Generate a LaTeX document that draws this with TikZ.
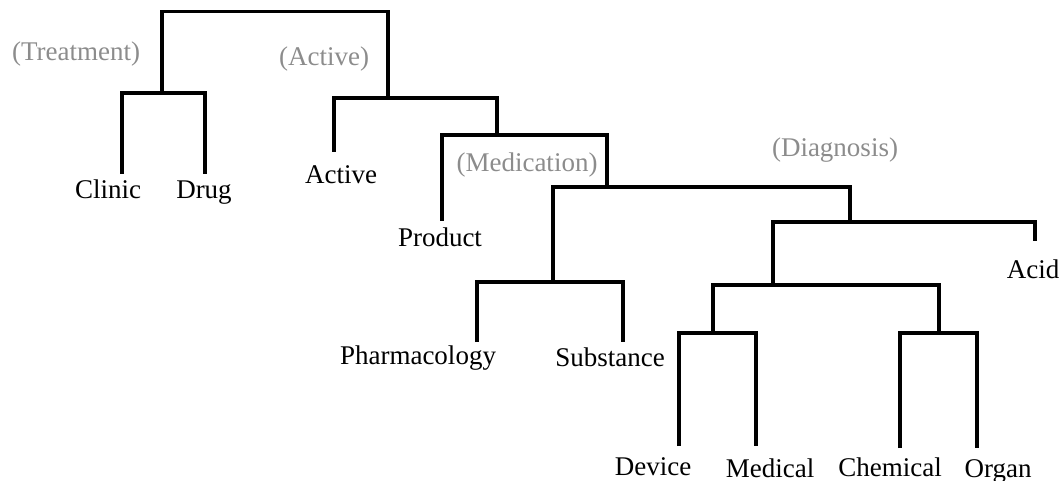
\documentclass[tikz,border=0pt]{standalone}
\usepackage{fontspec}
\setmainfont{Liberation Serif}

\definecolor{clustergray}{RGB}{140,140,140}

\tikzset{
  leaf/.style={anchor=base, inner sep=0pt, font=\fontsize{27}{32}\selectfont},
  cluster/.style={leaf, text=clustergray},
  branch/.style={draw, line width=3.6pt},
}

\begin{document}
\begin{tikzpicture}[x=1pt, y=-1pt]
        \useasboundingbox (0,0) rectangle (1060,481);

        % Define the leaf labels
        \node[leaf] (clinic) at (108,199) {Clinic};
        \node[leaf] (drug) at (204,199) {Drug};
        \node[leaf] (active) at (341,184) {Active};
        \node[leaf] (product) at (440,247) {Product};
        \node[leaf] (pharma) at (418,364) {Pharmacology};
        \node[leaf] (subst) at (610,366) {Substance};
        \node[leaf] (acid) at (1033,278) {Acid};
        \node[leaf] (device) at (653,475) {Device};
        \node[leaf] (medical) at (770,477) {Medical};
        \node[leaf] (chem) at (890,476) {Chemical};
        \node[leaf] (organ) at (998,477) {Organ};

        % Define the cluster names
        \node[cluster] (c_treat) at (76,61) {(Treatment)};
        \node[cluster] (c_active) at (324,66) {(Active)};
        \node[cluster] (c_med) at (527,172) {(Medication)};
        \node[cluster] (c_diag) at (835,157) {(Diagnosis)};

        % Define the leaf ends
        \coordinate (clinic_end) at (122,174);
        \coordinate (drug_end) at (205,174);
        \coordinate (active_end) at (334,152);
        \coordinate (product_end) at (442,221);
        \coordinate (pharma_end) at (477,342);
        \coordinate (subst_end) at (623,342);
        \coordinate (acid_end) at (1035,241);
        \coordinate (device_end) at (679,446);
        \coordinate (medical_end) at (756,446);
        \coordinate (chem_end) at (900,448);
        \coordinate (organ_end) at (977,448);

        % Define the joins
        \coordinate (j_root) at (275,11.5);
        \coordinate (j_treat) at (162,93);
        \coordinate (j_active) at (388,98);
        \coordinate (j_med) at (497,135);
        \coordinate (j_mid) at (607,187);
        \coordinate (j_ps) at (553,282);
        \coordinate (j_diag) at (850,222);
        \coordinate (j_four) at (773,285);
        \coordinate (j_dm) at (713,333);
        \coordinate (j_co) at (939,333);

        % Define the branches
        \path[branch]
        (j_treat) |- (j_root) -| (j_active)
        (clinic_end) |- (j_treat) -| (drug_end)
        (active_end) |- (j_active) -| (j_med)
        (product_end) |- (j_med) -| (j_mid)
        (j_ps) |- (j_mid) -| (j_diag)
        (pharma_end) |- (j_ps) -| (subst_end)
        (j_four) |- (j_diag) -| (acid_end)
        (j_dm) |- (j_four) -| (j_co)
        (device_end) |- (j_dm) -| (medical_end)
        (chem_end) |- (j_co) -| (organ_end);

    \end{tikzpicture}
\end{document}
